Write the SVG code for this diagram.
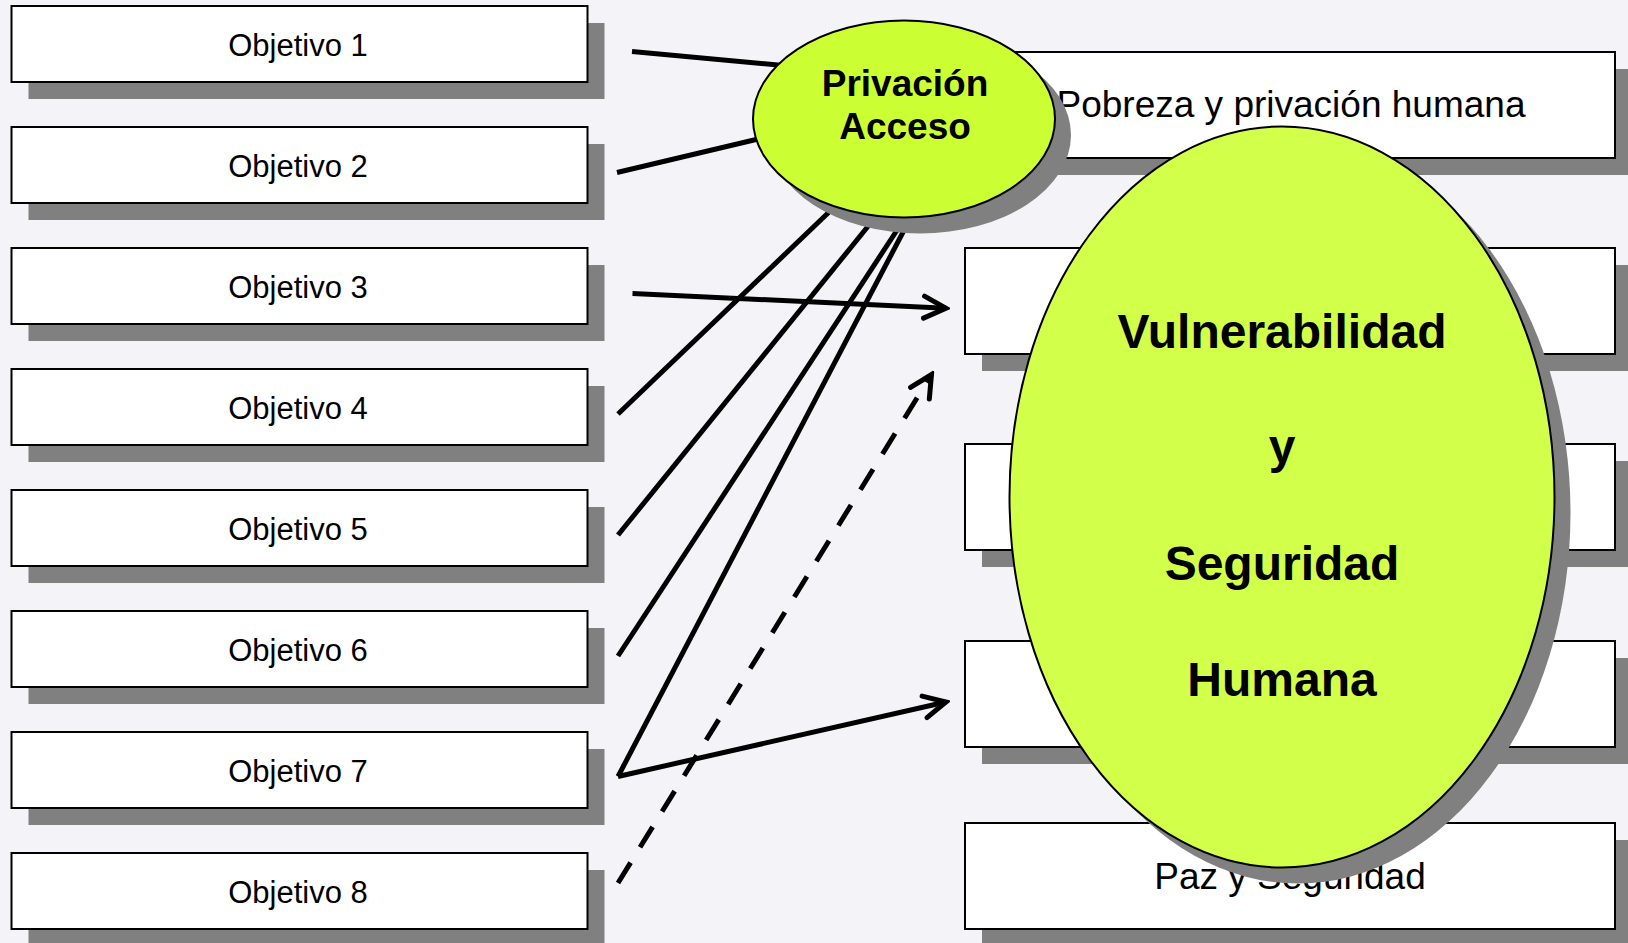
<svg xmlns="http://www.w3.org/2000/svg" width="1628" height="943" viewBox="0 0 1628 943">
<style>
.box{fill:#fff;stroke:#000;stroke-width:2}
.sh{fill:#808080}
.t{font-family:"Liberation Sans",Arial,sans-serif;font-size:31px;text-anchor:middle;fill:#000}
.tr{font-family:"Liberation Sans",Arial,sans-serif;font-size:37px;text-anchor:middle;fill:#000}
.tb{font-family:"Liberation Sans",Arial,sans-serif;font-weight:bold;text-anchor:middle;fill:#000}
.ln{stroke:#000;stroke-width:5;fill:none}
</style>
<defs>
<marker id="arr" viewBox="0 0 30 30" refX="26" refY="15" markerWidth="30" markerHeight="30" markerUnits="userSpaceOnUse" orient="auto">
<path d="M4,4 L26,15 L4,26" fill="none" stroke="#000" stroke-width="5" stroke-linecap="round" stroke-dasharray="none"/>
</marker>
</defs>
<rect width="1628" height="943" fill="#f4f3f8"/>
<g id="obj1"><rect class="sh" x="28.5" y="23" width="576" height="76"/><rect class="box" x="11.5" y="6" width="576" height="76"/><text class="t" x="298" y="56">Objetivo 1</text></g>
<g id="obj2"><rect class="sh" x="28.5" y="144" width="576" height="76"/><rect class="box" x="11.5" y="127" width="576" height="76"/><text class="t" x="298" y="177">Objetivo 2</text></g>
<g id="obj3"><rect class="sh" x="28.5" y="265" width="576" height="76"/><rect class="box" x="11.5" y="248" width="576" height="76"/><text class="t" x="298" y="298">Objetivo 3</text></g>
<g id="obj4"><rect class="sh" x="28.5" y="386" width="576" height="76"/><rect class="box" x="11.5" y="369" width="576" height="76"/><text class="t" x="298" y="419">Objetivo 4</text></g>
<g id="obj5"><rect class="sh" x="28.5" y="507" width="576" height="76"/><rect class="box" x="11.5" y="490" width="576" height="76"/><text class="t" x="298" y="540">Objetivo 5</text></g>
<g id="obj6"><rect class="sh" x="28.5" y="628" width="576" height="76"/><rect class="box" x="11.5" y="611" width="576" height="76"/><text class="t" x="298" y="661">Objetivo 6</text></g>
<g id="obj7"><rect class="sh" x="28.5" y="749" width="576" height="76"/><rect class="box" x="11.5" y="732" width="576" height="76"/><text class="t" x="298" y="782">Objetivo 7</text></g>
<g id="obj8"><rect class="sh" x="28.5" y="870" width="576" height="76"/><rect class="box" x="11.5" y="853" width="576" height="76"/><text class="t" x="298" y="903">Objetivo 8</text></g>
<g id="r1"><rect class="sh" x="982" y="69" width="650" height="106"/><rect class="box" x="965" y="52" width="650" height="106"/><text class="tr" x="1291" y="117">Pobreza y privación humana</text></g>
<g id="r2"><rect class="sh" x="982" y="265" width="650" height="106"/><rect class="box" x="965" y="248" width="650" height="106"/></g>
<g id="r3"><rect class="sh" x="982" y="461" width="650" height="106"/><rect class="box" x="965" y="444" width="650" height="106"/></g>
<g id="r4"><rect class="sh" x="982" y="658" width="650" height="106"/><rect class="box" x="965" y="641" width="650" height="106"/></g>
<g id="r5"><rect class="sh" x="982" y="840" width="650" height="106"/><rect class="box" x="965" y="823" width="650" height="106"/><text class="tr" x="1290" y="889">Paz y Seguridad</text></g>
<g id="connectors">
<line class="ln" x1="632" y1="51.5" x2="810" y2="68"/>
<line class="ln" x1="617" y1="172.5" x2="790" y2="131.5"/>
<line class="ln" x1="618" y1="414" x2="850" y2="192"/>
<line class="ln" x1="618" y1="535" x2="880" y2="211.5"/>
<line class="ln" x1="618" y1="656" x2="905" y2="218"/>
<line class="ln" x1="618" y1="776.5" x2="912" y2="215"/>
<line class="ln" x1="632.5" y1="293.5" x2="946" y2="308.2" marker-end="url(#arr)"/>
<line class="ln" x1="618" y1="776.5" x2="946" y2="702" marker-end="url(#arr)"/>
<line class="ln" x1="618" y1="883" x2="931.5" y2="374.5" stroke-dasharray="24 18" marker-end="url(#arr)"/>
</g>
<g id="privacion">
<ellipse class="sh" cx="920" cy="135" rx="151" ry="98.5"/>
<ellipse cx="904" cy="119" rx="151" ry="98.5" fill="#ccff33" stroke="#000" stroke-width="2"/>
<text class="tb" x="905" y="96" font-size="37">Privación</text>
<text class="tb" x="905" y="139" font-size="37">Acceso</text>
</g>
<g id="vulnerabilidad">
<ellipse class="sh" cx="1298" cy="513" rx="272.5" ry="370.5"/>
<ellipse cx="1282" cy="497" rx="272.5" ry="370.5" fill="#d1ff4a" stroke="#000" stroke-width="2"/>
<text class="tb" x="1282" y="348" font-size="48">Vulnerabilidad</text>
<text class="tb" x="1282" y="463" font-size="48">y</text>
<text class="tb" x="1282" y="580" font-size="48">Seguridad</text>
<text class="tb" x="1282" y="696" font-size="48">Humana</text>
</g>
</svg>
